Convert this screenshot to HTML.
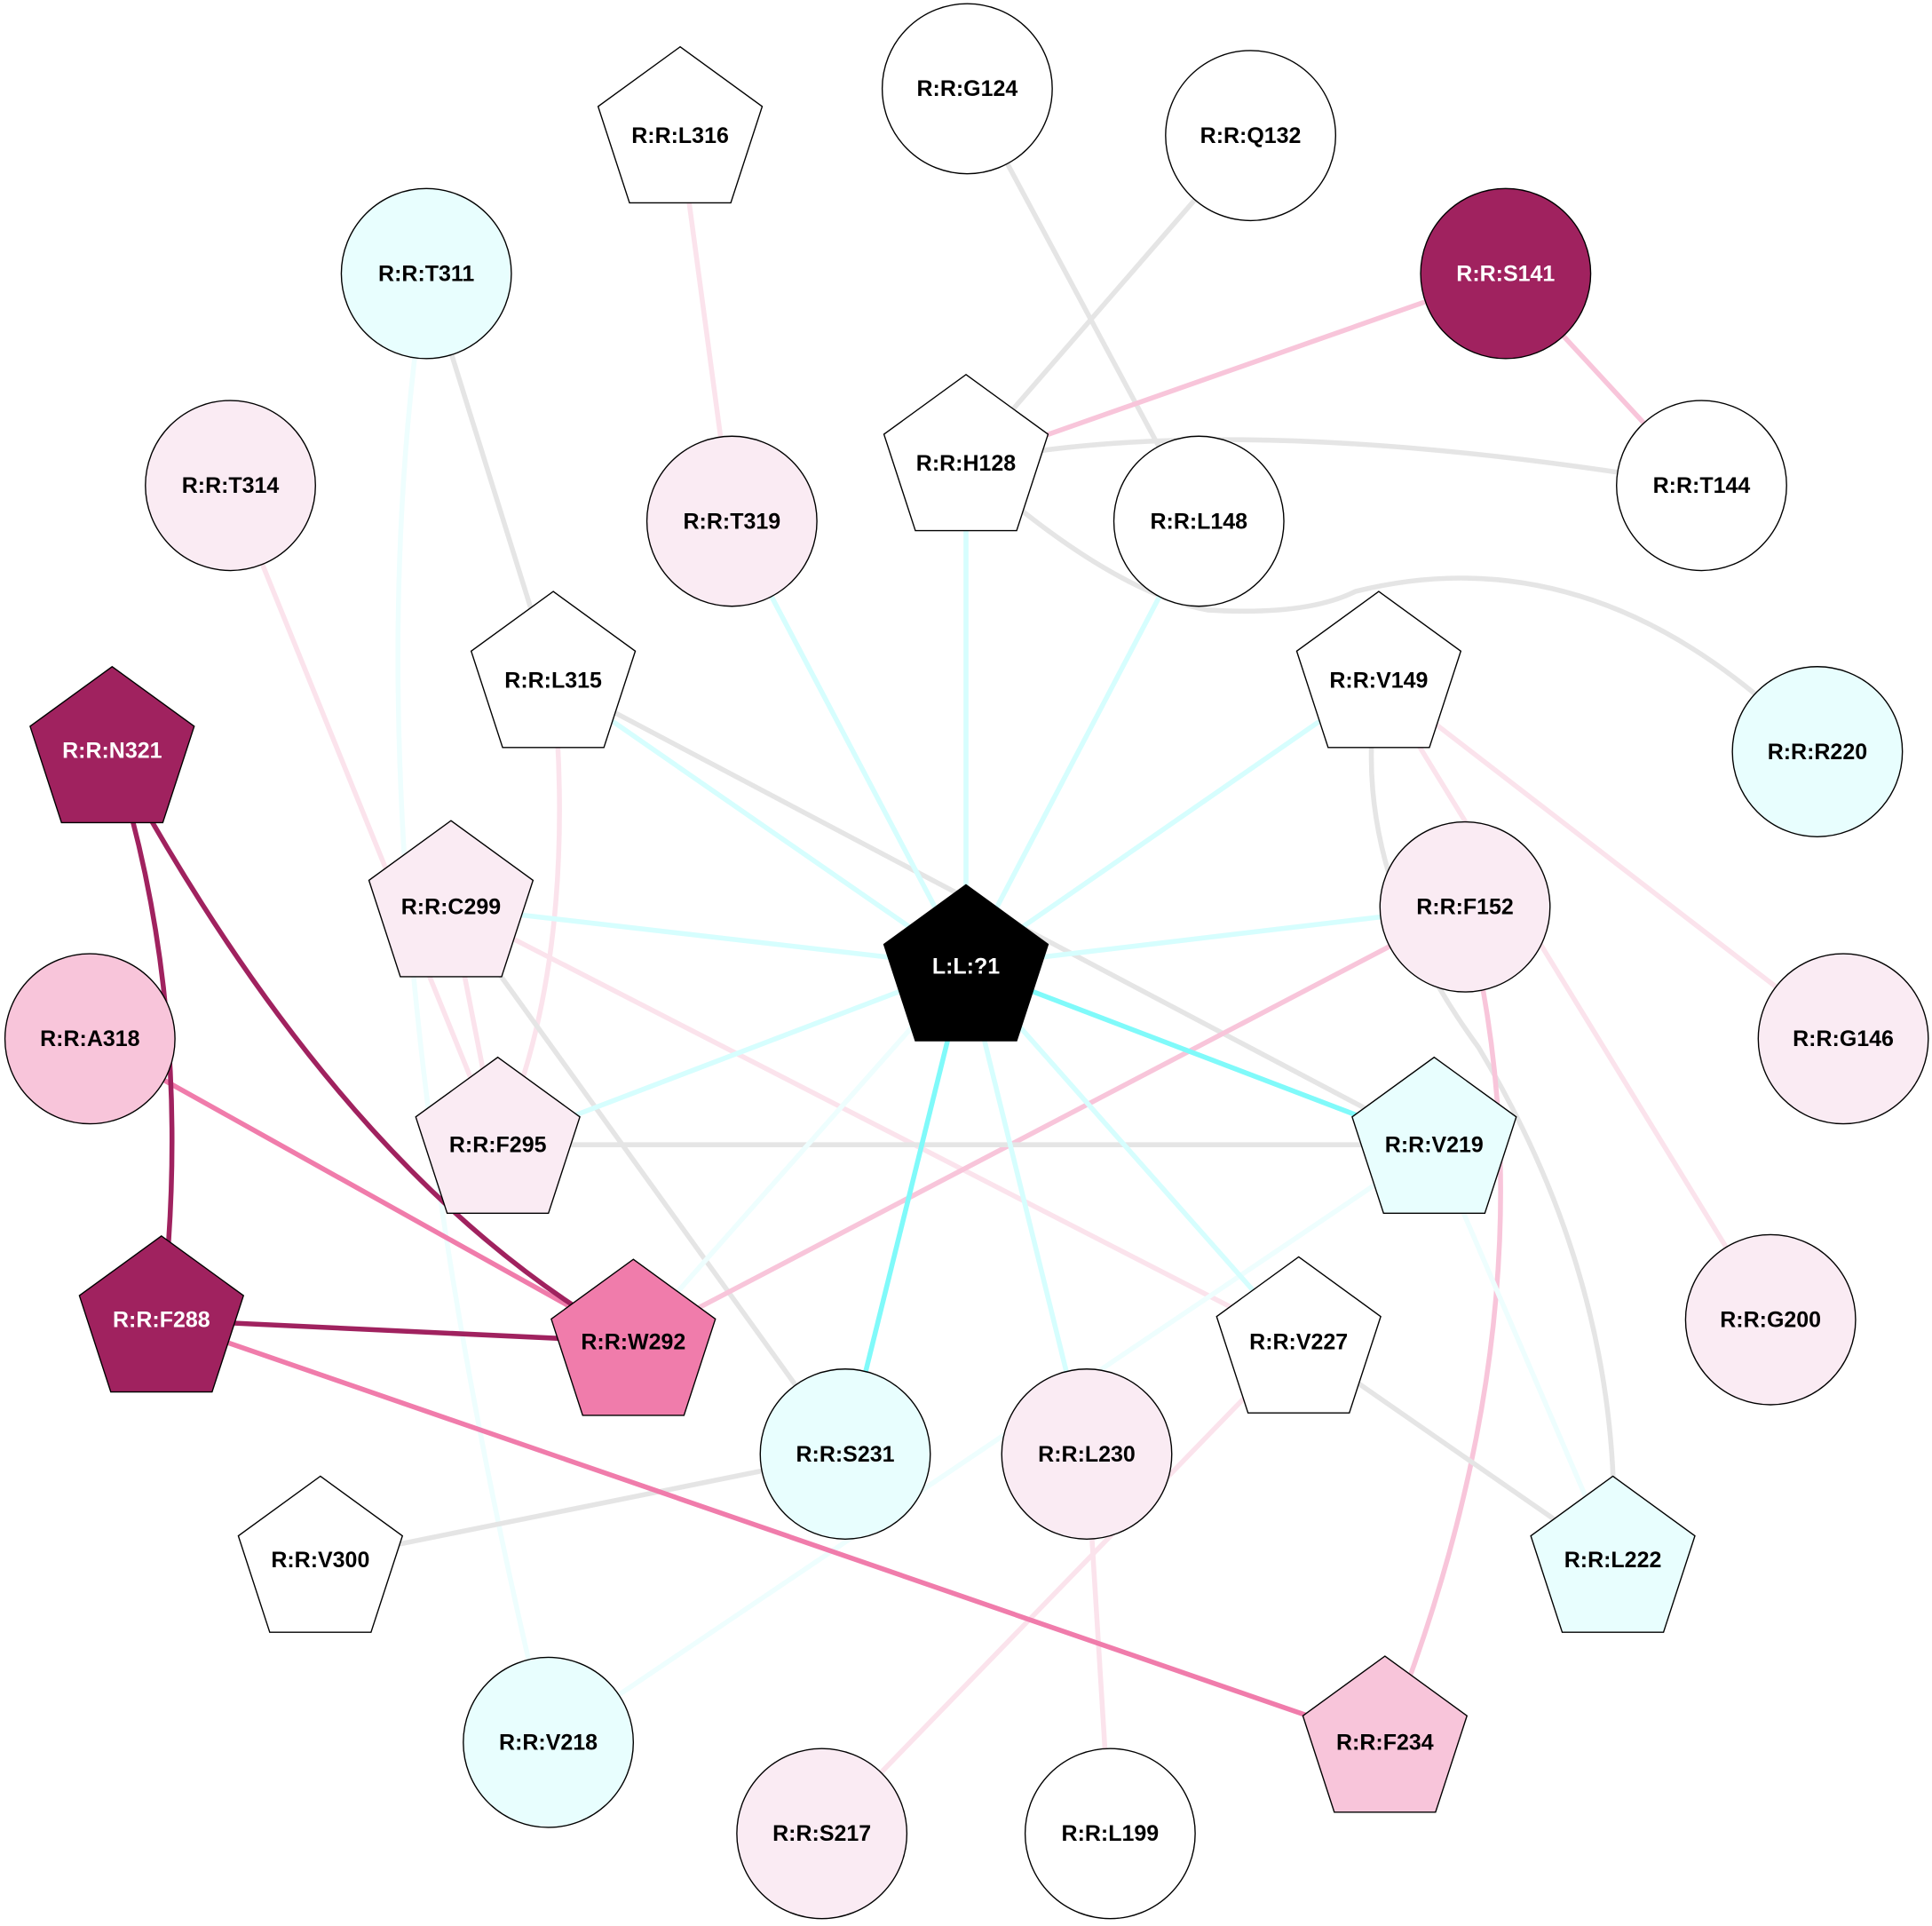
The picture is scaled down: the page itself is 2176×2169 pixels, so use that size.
<!DOCTYPE html>
<html><head><meta charset="utf-8"><style>html,body{margin:0;padding:0;background:#fff}svg{display:block}</style></head><body>
<svg xmlns="http://www.w3.org/2000/svg" width="2176" height="2169" viewBox="0 0 1568 1563">
<defs>
<polygon id="pg" points="0,-70 66.6,-21.6 41.1,56.6 -41.1,56.6 -66.6,-21.6"/>
</defs>
<g fill="none" stroke-width="4">
<line x1="552" y1="110" x2="594" y2="423" stroke="#FBE3EC"/>
<line x1="785" y1="72" x2="973" y2="423" stroke="#E5E5E5"/>
<line x1="1015" y1="110" x2="784" y2="376" stroke="#E5E5E5"/>
<line x1="1222" y1="222" x2="784" y2="376" stroke="#F8C5DA"/>
<line x1="1222" y1="222" x2="1381" y2="394" stroke="#F8C5DA"/>
<path d="M784,376 Q1000,330 1381,394" stroke="#E5E5E5"/>
<path d="M784,376 Q900,480 980,495 Q1060,500 1100,480 Q1300,430 1475,610" stroke="#E5E5E5"/>
<line x1="346" y1="222" x2="449" y2="552" stroke="#E5E5E5"/>
<path d="M346,222 Q270,700 445,1414" stroke="#EEFEFE"/>
<line x1="187" y1="394" x2="404" y2="929" stroke="#FBE3EC"/>
<line x1="449" y1="552" x2="1164" y2="929" stroke="#E5E5E5"/>
<path d="M449,552 Q470,780 404,929" stroke="#FBE3EC"/>
<path d="M1119,552 Q1090,700 1200,850 Q1320,1050 1309,1266" stroke="#E5E5E5"/>
<line x1="1119" y1="552" x2="1496" y2="843" stroke="#FBE3EC"/>
<line x1="1119" y1="552" x2="1437" y2="1071" stroke="#FBE3EC"/>
<line x1="366" y1="736" x2="404" y2="929" stroke="#FBE3EC"/>
<line x1="366" y1="736" x2="686" y2="1180" stroke="#E5E5E5"/>
<line x1="366" y1="736" x2="1054" y2="1089" stroke="#FBE3EC"/>
<line x1="1189" y1="736" x2="514" y2="1089" stroke="#F8C5DA"/>
<path d="M1189,736 Q1270,1050 1124,1414" stroke="#F8C5DA"/>
<line x1="404" y1="929" x2="1164" y2="929" stroke="#E5E5E5"/>
<line x1="1164" y1="929" x2="445" y2="1414" stroke="#EEFEFE"/>
<line x1="1164" y1="929" x2="1309" y2="1266" stroke="#EEFEFE"/>
<line x1="1054" y1="1089" x2="1309" y2="1266" stroke="#E5E5E5"/>
<line x1="1054" y1="1089" x2="667" y2="1488" stroke="#FBE3EC"/>
<line x1="882" y1="1180" x2="901" y2="1488" stroke="#FBE3EC"/>
<line x1="686" y1="1180" x2="260" y2="1266" stroke="#E5E5E5"/>
<line x1="73" y1="843" x2="514" y2="1089" stroke="#F07CAB"/>
<line x1="131" y1="1071" x2="1124" y2="1414" stroke="#F07CAB"/>
<path d="M91,609 Q160,820 131,1071" stroke="#A0225F"/>
<path d="M91,609 Q280,960 514,1089" stroke="#A0225F"/>
<line x1="131" y1="1071" x2="514" y2="1089" stroke="#A0225F"/>
<g stroke="#D6FEFE">
<line x1="784" y1="784" x2="784" y2="376"/>
<line x1="784" y1="784" x2="973" y2="423"/>
<line x1="784" y1="784" x2="594" y2="423"/>
<line x1="784" y1="784" x2="449" y2="552"/>
<line x1="784" y1="784" x2="1119" y2="552"/>
<line x1="784" y1="784" x2="366" y2="736"/>
<line x1="784" y1="784" x2="1189" y2="736"/>
<line x1="784" y1="784" x2="404" y2="929"/>
<line x1="784" y1="784" x2="882" y2="1180"/>
<line x1="784" y1="784" x2="1054" y2="1089"/>
</g>
<line x1="784" y1="784" x2="514" y2="1089" stroke="#EEFEFE"/>
<line x1="784" y1="784" x2="1164" y2="929" stroke="#80FAFA"/>
<line x1="784" y1="784" x2="686" y2="1180" stroke="#80FAFA"/>
</g>
<g stroke="#000" stroke-width="1">
<circle cx="785" cy="72" r="69" fill="#fff"/>
<circle cx="1015" cy="110" r="69" fill="#fff"/>
<circle cx="1222" cy="222" r="69" fill="#A0225F"/>
<circle cx="346" cy="222" r="69" fill="#E8FEFE"/>
<circle cx="187" cy="394" r="69" fill="#FAEBF3"/>
<circle cx="594" cy="423" r="69" fill="#FAEBF3"/>
<circle cx="973" cy="423" r="69" fill="#fff"/>
<circle cx="1381" cy="394" r="69" fill="#fff"/>
<circle cx="1475" cy="610" r="69" fill="#E8FEFE"/>
<circle cx="73" cy="843" r="69" fill="#F8C5DA"/>
<circle cx="1189" cy="736" r="69" fill="#FAEBF3"/>
<circle cx="1496" cy="843" r="69" fill="#FAEBF3"/>
<circle cx="1437" cy="1071" r="69" fill="#FAEBF3"/>
<circle cx="686" cy="1180" r="69" fill="#E8FEFE"/>
<circle cx="882" cy="1180" r="69" fill="#FAEBF3"/>
<circle cx="445" cy="1414" r="69" fill="#E8FEFE"/>
<circle cx="667" cy="1488" r="69" fill="#FAEBF3"/>
<circle cx="901" cy="1488" r="69" fill="#fff"/>
<use href="#pg" x="552" y="108" fill="#fff"/>
<use href="#pg" x="784" y="374" fill="#fff"/>
<use href="#pg" x="449" y="550" fill="#fff"/>
<use href="#pg" x="1119" y="550" fill="#fff"/>
<use href="#pg" x="91" y="611" fill="#A0225F"/>
<use href="#pg" x="366" y="736" fill="#FAEBF3"/>
<use href="#pg" x="784" y="788" fill="#000"/>
<use href="#pg" x="404" y="928" fill="#FAEBF3"/>
<use href="#pg" x="1164" y="928" fill="#E8FEFE"/>
<use href="#pg" x="131" y="1073" fill="#A0225F"/>
<use href="#pg" x="514" y="1092" fill="#F07CAB"/>
<use href="#pg" x="1054" y="1090" fill="#fff"/>
<use href="#pg" x="260" y="1268" fill="#fff"/>
<use href="#pg" x="1309" y="1268" fill="#E8FEFE"/>
<use href="#pg" x="1124" y="1414" fill="#F8C5DA"/>
</g>
<g font-family="Liberation Sans, sans-serif" font-weight="bold" font-size="18" text-anchor="middle" fill="#000">
<text x="785" y="78">R:R:G124</text>
<text x="1015" y="116">R:R:Q132</text>
<text x="1222" y="228" fill="#fff">R:R:S141</text>
<text x="346" y="228">R:R:T311</text>
<text x="187" y="400">R:R:T314</text>
<text x="594" y="429">R:R:T319</text>
<text x="973" y="429">R:R:L148</text>
<text x="1381" y="400">R:R:T144</text>
<text x="1475" y="616">R:R:R220</text>
<text x="73" y="849">R:R:A318</text>
<text x="1189" y="742">R:R:F152</text>
<text x="1496" y="849">R:R:G146</text>
<text x="1437" y="1077">R:R:G200</text>
<text x="686" y="1186">R:R:S231</text>
<text x="882" y="1186">R:R:L230</text>
<text x="445" y="1420">R:R:V218</text>
<text x="667" y="1494">R:R:S217</text>
<text x="901" y="1494">R:R:L199</text>
<text x="552" y="116">R:R:L316</text>
<text x="784" y="382">R:R:H128</text>
<text x="449" y="558">R:R:L315</text>
<text x="1119" y="558">R:R:V149</text>
<text x="91" y="615" fill="#fff">R:R:N321</text>
<text x="366" y="742">R:R:C299</text>
<text x="784" y="790" fill="#fff">L:L:?1</text>
<text x="404" y="935">R:R:F295</text>
<text x="1164" y="935">R:R:V219</text>
<text x="131" y="1077" fill="#fff">R:R:F288</text>
<text x="514" y="1095">R:R:W292</text>
<text x="1054" y="1095">R:R:V227</text>
<text x="260" y="1272">R:R:V300</text>
<text x="1309" y="1272">R:R:L222</text>
<text x="1124" y="1420">R:R:F234</text>
</g>
</svg>
</body></html>
